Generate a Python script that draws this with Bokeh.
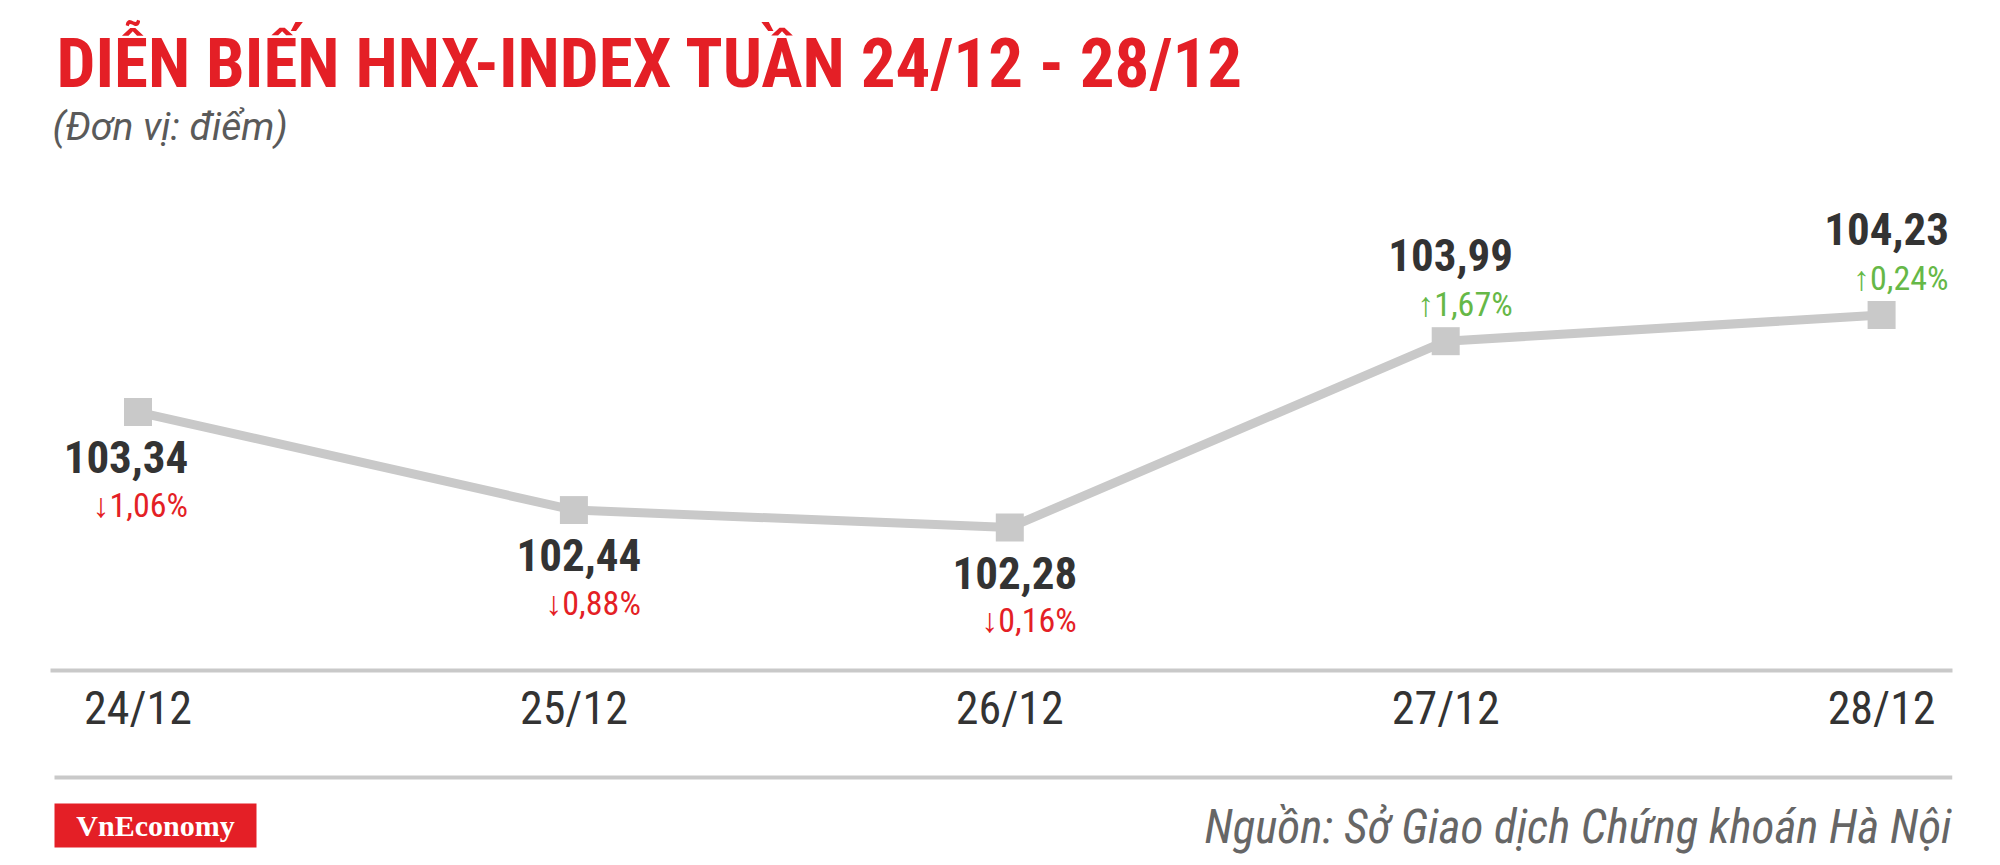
from bokeh.plotting import figure
from bokeh.models import Range1d, FixedTicker, ColumnDataSource, Label, BoxAnnotation
from bokeh.layouts import column
from bokeh.embed import file_html
from bokeh.resources import INLINE
from bokeh.core.properties import value

# ---------------- data ----------------
dates = ["24/12", "25/12", "26/12", "27/12", "28/12"]
index_values = [103.34, 102.44, 102.28, 103.99, 104.23]
changes_pct = [-1.06, -0.88, -0.16, 1.67, 0.24]

TITLE = "DIỄN BIẾN HNX-INDEX TUẦN 24/12 - 28/12"
SUBTITLE = "(Đơn vị: điểm)"
SOURCE = "Nguồn: Sở Giao dịch Chứng khoán Hà Nội"
BRAND = "VnEconomy"

# ---------------- style ----------------
COND = "Roboto Condensed"
RED = "#e41f26"
GREEN = "#66b847"
LINE_GREY = "#c9c9c9"
DARK = "#333333"

W = 1984
H_MAIN = 757
H_FOOT = 103
BORDER_L, BORDER_R, BORDER_T = 50, 32, 8
FRAME_H = 662
FRAME_W = W - BORDER_L - BORDER_R
BASE_FIX = 0.33  # baseline correction as fraction of font size
LABEL_SHIFT = [-17, 0, 0, 0, 0]  # horizontal nudge (px) of each point's labels

xr = Range1d(-0.20073, 4.16265)
yr = Range1d(100.968, 107.043)

p = figure(width=W, height=H_MAIN, x_range=xr, y_range=yr,
           output_backend="svg", toolbar_location=None,
           y_axis_location=None,
           min_border_left=BORDER_L, min_border_right=BORDER_R,
           min_border_top=BORDER_T, min_border_bottom=H_MAIN - FRAME_H - BORDER_T)
p.outline_line_color = None
p.grid.visible = False
p.background_fill_color = "white"
p.border_fill_color = "white"

xs = list(range(len(dates)))
ax = p.xaxis[0]
ax.ticker = FixedTicker(ticks=xs)
ax.major_label_overrides = {i: d for i, d in enumerate(dates)}
ax.axis_line_color = LINE_GREY
ax.axis_line_width = 4
ax.major_tick_line_color = None
ax.minor_tick_line_color = None
ax.major_label_standoff = 4
ax.major_label_text_font = COND
ax.major_label_text_font_size = "46px"
ax.major_label_text_color = DARK

# helpers: page pixel -> data of the main figure
def fx(px):
    return xr.start + (px - BORDER_L) / FRAME_W * (xr.end - xr.start)
def fy(py):
    return yr.end - (py - BORDER_T) / FRAME_H * (yr.end - yr.start)

# line + markers
p.line(xs, index_values, line_width=9, line_color=LINE_GREY)
p.scatter(xs, index_values, marker="square", size=28, fill_color=LINE_GREY, line_color=None)

# labels
def fmt(v):
    return f"{v:.2f}".replace(".", ",")

VAL_FS, PCT_FS = 45, 34
val_text = [fmt(v) for v in index_values]
pct_text = [("\u2191" if c > 0 else "\u2193") + fmt(abs(c)) + "%" for c in changes_pct]
pct_color = [GREEN if c > 0 else RED for c in changes_pct]
val_off = [(-71 if c > 0 else 60) - BASE_FIX * VAL_FS for c in changes_pct]
pct_off = [(-26 if c > 0 else 104) - BASE_FIX * PCT_FS for c in changes_pct]
val_dx = [5 + s for s in LABEL_SHIFT]
pct_dx = [67 + s for s in LABEL_SHIFT]

src = ColumnDataSource(dict(x=xs, y=index_values, val_text=val_text, pct_text=pct_text,
                            pct_color=pct_color, val_off=val_off, pct_off=pct_off,
                            val_dx=val_dx, pct_dx=pct_dx))
p.text("x", "y", text="val_text", source=src, x_offset="val_dx", y_offset="val_off",
       text_align="center", text_baseline="alphabetic",
       text_font=value(COND), text_font_style="bold", text_font_size=f"{VAL_FS}px",
       text_color=DARK)
p.text("x", "y", text="pct_text", source=src, x_offset="pct_dx", y_offset="pct_off",
       text_align="right", text_baseline="alphabetic",
       text_font=value(COND), text_font_size=f"{PCT_FS}px", text_color="pct_color")

# title / subtitle
TITLE_FS, SUB_FS = 69, 39
p.add_layout(Label(x=fx(56), y=fy(86 - BASE_FIX * TITLE_FS), text=TITLE, text_font=COND,
                   text_font_style="bold", text_font_size=f"{TITLE_FS}px", text_color=RED,
                   text_align="left", text_baseline="alphabetic"))
p.add_layout(Label(x=fx(52), y=fy(139 - BASE_FIX * SUB_FS), text=SUBTITLE, text_font="Roboto",
                   text_font_style="italic", text_font_size=f"{SUB_FS}px", text_color="#5a5a5a",
                   text_align="left", text_baseline="alphabetic"))

# ---------------- footer ----------------
f = figure(width=W, height=H_FOOT, x_range=Range1d(BORDER_L, W - BORDER_R),
           y_range=Range1d(H_FOOT, 0),
           output_backend="svg", toolbar_location=None,
           x_axis_location=None, y_axis_location=None,
           min_border_left=BORDER_L, min_border_right=BORDER_R,
           min_border_top=0, min_border_bottom=0)
f.outline_line_color = None
f.grid.visible = False
f.background_fill_color = "white"
f.border_fill_color = "white"

SRC_FS = 47
f.segment(x0=[54], y0=[20], x1=[1952], y1=[20], line_color=LINE_GREY, line_width=4)
f.add_layout(BoxAnnotation(left=54, right=256, top=46, bottom=90,
                           fill_color=RED, fill_alpha=1.0, line_color=None))
f.add_layout(Label(x=155, y=68, text=BRAND, text_font="Liberation Serif", text_font_style="bold",
                   text_font_size="30px", text_color="white", text_align="center",
                   text_baseline="middle"))
f.add_layout(Label(x=1951, y=85 - BASE_FIX * SRC_FS, text=SOURCE, text_font=COND,
                   text_font_style="italic", text_font_size=f"{SRC_FS}px", text_color="#666666",
                   text_align="right", text_baseline="alphabetic"))

layout = column(p, f, spacing=0)
open("out.html", "w").write(file_html(layout, INLINE))
